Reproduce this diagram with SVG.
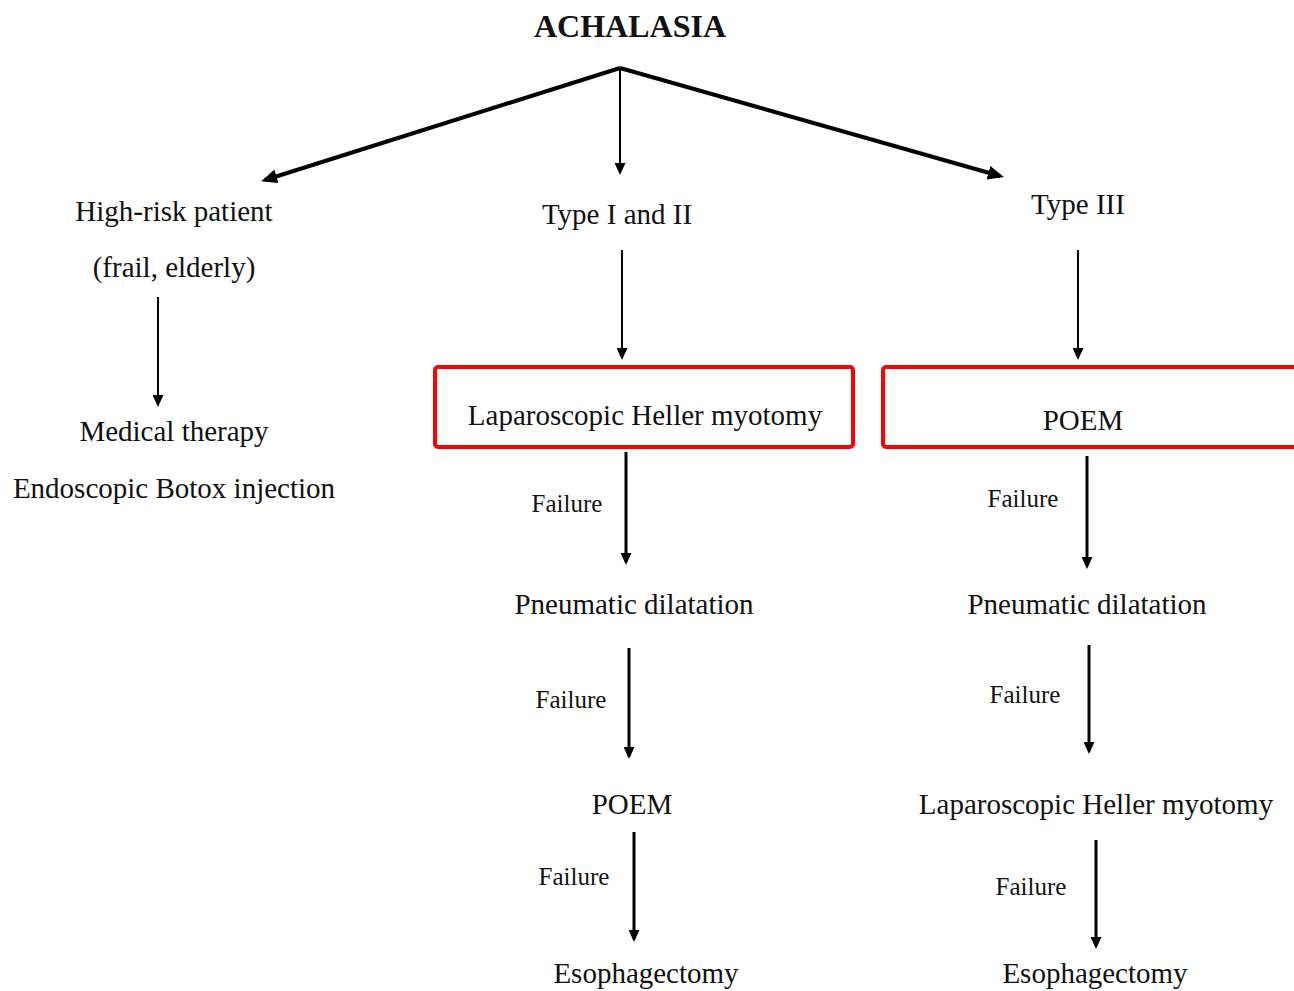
<svg xmlns="http://www.w3.org/2000/svg" width="1294" height="991" viewBox="0 0 1294 991">
<style>
text{font-family:"Liberation Serif","Times New Roman",serif;fill:#111;text-anchor:middle}
.t{font-size:29px}
.f{font-size:25px}
.title{font-size:32px;font-weight:bold}
.box{fill:none;stroke:#ff0000;stroke-width:4}
.thick{stroke:#000;stroke-width:4;fill:none}
.mid{stroke:#000;stroke-width:3;fill:none}
.thin{stroke:#000;stroke-width:2;fill:none}
</style>
<defs>
<marker id="ah" markerUnits="userSpaceOnUse" markerWidth="16" markerHeight="14" viewBox="0 0 16 14" refX="12" refY="7" orient="auto">
<path d="M0,0 L16,7 L0,14 z" fill="#000"/>
</marker>
<marker id="as" markerUnits="userSpaceOnUse" markerWidth="12" markerHeight="11" viewBox="0 0 12 11" refX="9" refY="5.5" orient="auto">
<path d="M0,0 L12,5.5 L0,11 z" fill="#000"/>
</marker>
</defs>

<g id="connectors">
<line class="thick" x1="620" y1="68" x2="265" y2="180" marker-end="url(#ah)"/>
<line class="thin" x1="620" y1="68" x2="620" y2="172" marker-end="url(#as)"/>
<line class="thick" x1="620" y1="68" x2="1000" y2="176" marker-end="url(#ah)"/>
<line class="thin" x1="158" y1="297" x2="158" y2="404" marker-end="url(#as)"/>
<line class="thin" x1="622" y1="250" x2="622" y2="357" marker-end="url(#as)"/>
<line class="thin" x1="1078" y1="250" x2="1078" y2="357" marker-end="url(#as)"/>
<line class="mid" x1="626" y1="452" x2="626" y2="562" marker-end="url(#as)"/>
<line class="mid" x1="629" y1="648" x2="629" y2="756" marker-end="url(#as)"/>
<line class="mid" x1="634" y1="832" x2="634" y2="939" marker-end="url(#as)"/>
<line class="mid" x1="1087" y1="456" x2="1087" y2="566" marker-end="url(#as)"/>
<line class="mid" x1="1089" y1="645" x2="1089" y2="751" marker-end="url(#as)"/>
<line class="mid" x1="1096" y1="840" x2="1096" y2="946" marker-end="url(#as)"/>
</g>

<g id="n-achalasia"><text class="title" x="630" y="37">ACHALASIA</text></g>
<g id="n-highrisk">
<text class="t" x="174" y="221">High-risk patient</text>
<text class="t" x="174" y="277">(frail, elderly)</text>
</g>
<g id="n-type12"><text class="t" x="617" y="224">Type I and II</text></g>
<g id="n-type3"><text class="t" x="1078" y="214">Type III</text></g>
<g id="n-medical">
<text class="t" x="174" y="441">Medical therapy</text>
<text class="t" x="174" y="498">Endoscopic Botox injection</text>
</g>
<g id="n-lhm1">
<rect class="box" x="435" y="367" width="418" height="80" rx="3"/>
<text class="t" x="645" y="425">Laparoscopic Heller myotomy</text>
</g>
<g id="n-poem1">
<rect class="box" x="883" y="367" width="420" height="80" rx="3"/>
<text class="t" x="1083" y="430">POEM</text>
</g>
<g id="l-f1"><text class="f" x="567" y="512">Failure</text></g>
<g id="n-pd1"><text class="t" x="634" y="614">Pneumatic dilatation</text></g>
<g id="l-f2"><text class="f" x="571" y="708">Failure</text></g>
<g id="n-poem2"><text class="t" x="632" y="814">POEM</text></g>
<g id="l-f3"><text class="f" x="574" y="885">Failure</text></g>
<g id="n-eso1"><text class="t" x="646" y="983">Esophagectomy</text></g>
<g id="l-f4"><text class="f" x="1023" y="507">Failure</text></g>
<g id="n-pd2"><text class="t" x="1087" y="614">Pneumatic dilatation</text></g>
<g id="l-f5"><text class="f" x="1025" y="703">Failure</text></g>
<g id="n-lhm2"><text class="t" x="1096" y="814">Laparoscopic Heller myotomy</text></g>
<g id="l-f6"><text class="f" x="1031" y="895">Failure</text></g>
<g id="n-eso2"><text class="t" x="1095" y="983">Esophagectomy</text></g>
</svg>
